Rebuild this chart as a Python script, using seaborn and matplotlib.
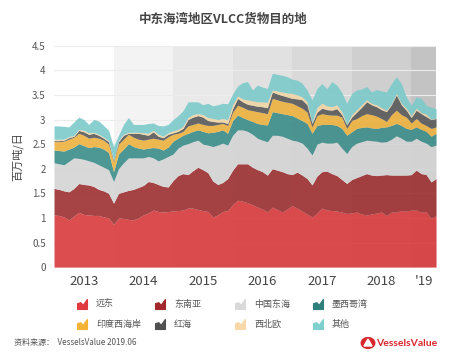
import numpy as np
import pandas as pd
import matplotlib
matplotlib.use("Agg")
import matplotlib.pyplot as plt
import seaborn as sns
from matplotlib.lines import Line2D
from matplotlib.path import Path

# Monthly data, Jan 2013 - Jun 2019 (million tonnes / day)
far_east = [1.06, 1.05, 1.02, 0.96, 1.04, 1.11, 1.07, 1.06, 1.05, 1.05, 1.02, 1.00,
            0.87, 1.00, 0.99, 0.97, 0.96, 1.00, 1.06, 1.10, 1.16, 1.13, 1.12, 1.13,
            1.14, 1.15, 1.16, 1.20, 1.20, 1.17, 1.15, 1.13, 1.02, 1.06, 1.13, 1.15,
            1.27, 1.36, 1.34, 1.31, 1.27, 1.22, 1.18, 1.12, 1.22, 1.17, 1.12, 1.18,
            1.25, 1.20, 1.14, 1.08, 1.02, 1.10, 1.20, 1.16, 1.15, 1.14, 1.12, 1.09,
            1.10, 1.12, 1.08, 1.06, 1.08, 1.10, 1.12, 1.05, 1.12, 1.12, 1.15, 1.14,
            1.16, 1.16, 1.12, 1.13, 0.99, 1.05]
se_asia = [0.54, 0.53, 0.53, 0.57, 0.56, 0.59, 0.61, 0.61, 0.59, 0.53, 0.53, 0.50,
           0.43, 0.50, 0.54, 0.59, 0.62, 0.62, 0.60, 0.64, 0.56, 0.55, 0.52, 0.50,
           0.62, 0.71, 0.74, 0.68, 0.76, 0.86, 0.83, 0.79, 0.73, 0.62, 0.59, 0.65,
           0.70, 0.74, 0.76, 0.79, 0.76, 0.76, 0.76, 0.75, 0.78, 0.80, 0.82, 0.72,
           0.63, 0.73, 0.73, 0.72, 0.65, 0.75, 0.74, 0.79, 0.75, 0.72, 0.66, 0.61,
           0.68, 0.70, 0.78, 0.84, 0.79, 0.76, 0.75, 0.83, 0.75, 0.75, 0.72, 0.73,
           0.72, 0.81, 0.78, 0.75, 0.74, 0.75]
east_china = [0.52, 0.52, 0.53, 0.62, 0.62, 0.51, 0.51, 0.49, 0.49, 0.50, 0.48, 0.48,
              0.44, 0.50, 0.59, 0.66, 0.64, 0.60, 0.56, 0.51, 0.50, 0.48, 0.56, 0.62,
              0.54, 0.56, 0.58, 0.63, 0.59, 0.55, 0.52, 0.56, 0.70, 0.80, 0.80, 0.68,
              0.71, 0.69, 0.69, 0.66, 0.67, 0.64, 0.64, 0.68, 0.68, 0.71, 0.72, 0.72,
              0.70, 0.63, 0.65, 0.62, 0.61, 0.65, 0.60, 0.57, 0.62, 0.68, 0.64, 0.61,
              0.67, 0.70, 0.69, 0.68, 0.70, 0.70, 0.67, 0.67, 0.73, 0.80, 0.75, 0.69,
              0.68, 0.65, 0.66, 0.64, 0.72, 0.68]
gulf_mexico = [0.26, 0.27, 0.28, 0.25, 0.22, 0.30, 0.28, 0.27, 0.32, 0.36, 0.37, 0.35,
               0.20, 0.30, 0.28, 0.29, 0.23, 0.20, 0.18, 0.17, 0.21, 0.26, 0.18, 0.19,
               0.26, 0.20, 0.20, 0.21, 0.21, 0.21, 0.26, 0.25, 0.29, 0.28, 0.27, 0.24,
               0.30, 0.30, 0.25, 0.24, 0.26, 0.30, 0.32, 0.34, 0.48, 0.46, 0.46, 0.48,
               0.50, 0.47, 0.46, 0.50, 0.44, 0.38, 0.36, 0.38, 0.38, 0.34, 0.40, 0.37,
               0.30, 0.30, 0.29, 0.27, 0.26, 0.26, 0.30, 0.30, 0.28, 0.25, 0.26, 0.26,
               0.24, 0.23, 0.24, 0.24, 0.21, 0.24]
india_wc = [0.17, 0.18, 0.20, 0.20, 0.20, 0.21, 0.21, 0.19, 0.19, 0.18, 0.18, 0.17,
            0.20, 0.20, 0.20, 0.19, 0.19, 0.18, 0.18, 0.18, 0.19, 0.18, 0.20, 0.21,
            0.14, 0.10, 0.08, 0.15, 0.14, 0.14, 0.14, 0.15, 0.14, 0.14, 0.13, 0.16,
            0.17, 0.20, 0.21, 0.20, 0.22, 0.24, 0.24, 0.23, 0.27, 0.26, 0.25, 0.25,
            0.25, 0.25, 0.25, 0.23, 0.13, 0.20, 0.22, 0.20, 0.19, 0.21, 0.23, 0.14,
            0.23, 0.20, 0.24, 0.27, 0.27, 0.25, 0.18, 0.11, 0.22, 0.27, 0.22, 0.23,
            0.13, 0.17, 0.13, 0.12, 0.16, 0.13]
red_sea = [0.02, 0.02, 0.02, 0.03, 0.02, 0.06, 0.07, 0.08, 0.08, 0.06, 0.04, 0.05,
           0.03, 0.05, 0.08, 0.02, 0.08, 0.12, 0.12, 0.08, 0.13, 0.06, 0.05, 0.05,
           0.03, 0.04, 0.06, 0.13, 0.15, 0.15, 0.15, 0.10, 0.08, 0.05, 0.03, 0.04,
           0.07, 0.14, 0.11, 0.11, 0.11, 0.11, 0.12, 0.12, 0.13, 0.12, 0.12, 0.11,
           0.10, 0.14, 0.17, 0.15, 0.07, 0.07, 0.11, 0.10, 0.10, 0.13, 0.05, 0.07,
           0.07, 0.13, 0.17, 0.24, 0.20, 0.19, 0.18, 0.20, 0.20, 0.31, 0.20, 0.14,
           0.11, 0.17, 0.19, 0.18, 0.18, 0.17]
nw_europe = [0.03, 0.03, 0.02, 0.02, 0.02, 0.02, 0.03, 0.03, 0.02, 0.02, 0.02, 0.02,
             0.01, 0.02, 0.02, 0.02, 0.02, 0.02, 0.03, 0.04, 0.03, 0.04, 0.03, 0.03,
             0.04, 0.04, 0.04, 0.04, 0.05, 0.04, 0.05, 0.06, 0.06, 0.05, 0.07, 0.08,
             0.08, 0.05, 0.06, 0.09, 0.09, 0.09, 0.10, 0.11, 0.04, 0.06, 0.07, 0.08,
             0.10, 0.08, 0.06, 0.06, 0.02, 0.10, 0.10, 0.08, 0.07, 0.08, 0.06, 0.01,
             0.05, 0.05, 0.05, 0.04, 0.03, 0.04, 0.04, 0.03, 0.02, 0.03, 0.03, 0.04,
             0.04, 0.04, 0.02, 0.05, 0.01, 0.01]
others = [0.27, 0.27, 0.26, 0.20, 0.27, 0.25, 0.22, 0.17, 0.26, 0.27, 0.24, 0.21,
          0.27, 0.11, 0.20, 0.30, 0.16, 0.16, 0.17, 0.20, 0.15, 0.18, 0.21, 0.17,
          0.23, 0.28, 0.32, 0.32, 0.26, 0.24, 0.20, 0.29, 0.26, 0.30, 0.31, 0.32,
          0.22, 0.20, 0.33, 0.37, 0.22, 0.34, 0.30, 0.28, 0.34, 0.34, 0.34, 0.33,
          0.29, 0.30, 0.28, 0.24, 0.46, 0.38, 0.40, 0.35, 0.51, 0.40, 0.39, 0.43,
          0.43, 0.40, 0.32, 0.27, 0.23, 0.31, 0.34, 0.37, 0.41, 0.34, 0.40, 0.23,
          0.21, 0.23, 0.29, 0.18, 0.24, 0.19]

series_names = ["远东", "东南亚", "中国东海", "墨西哥湾", "印度西海岸", "红海", "西北欧", "其他"]
area_colors = ["#d83a3c", "#9c2f31", "#d4d4d4", "#3a8c89", "#eeb23e", "#595959", "#f1d5a4", "#7ccaca"]
legend_colors = ["#e0393e", "#a3282c", "#d9d9d9", "#2f7f7a", "#f5b335", "#505050", "#f8d8a8", "#7fcfcf"]

years = [2013, 2014, 2015, 2016, 2017, 2018, 2019]
year_labels = ["2013", "2014", "2015", "2016", "2017", "2018", "'19"]
band_colors = ["#ffffff", "#f3f3f3", "#e9e9e9", "#e1e1e1", "#d9d9d9", "#cfcfcf", "#c3c3c3"]

df = pd.DataFrame(dict(zip(series_names,
                           [far_east, se_asia, east_china, gulf_mexico,
                            india_wc, red_sea, nw_europe, others])))
df["date"] = 2013 + np.arange(len(df)) / 12.0
x_end = df["date"].iloc[-1]

sns.set_theme(style="white")
plt.rcParams["font.family"] = ["Noto Sans CJK SC", "DejaVu Sans"]

fig = plt.figure(figsize=(4.5, 3.6), dpi=100)
ax = fig.add_axes([0.12, 0.258, 0.849, 0.615])

# year background bands
for yr, col in zip(years, band_colors):
    ax.axvspan(yr, min(yr + 1, x_end), ymin=0, ymax=1, color=col, lw=0, zorder=0)

for yv in np.arange(0.5, 4.51, 0.5):
    ax.axhline(yv, color="#ececec", lw=0.8, zorder=1)

ax.stackplot(df["date"], *[df[n] for n in series_names], colors=area_colors,
             alpha=0.9, lw=0, zorder=2)

ax.set_xlim(2013, x_end)
ax.set_ylim(0, 4.5)
ax.set_yticks(np.arange(0, 4.51, 0.5))
ax.set_yticklabels(["0", "0.5", "1", "1.5", "2", "2.5", "3", "3.5", "4", "4.5"],
                   fontsize=7, color="#555555")
mids = [yr + (min(yr + 1, x_end) - yr) / 2 for yr in years]
ax.set_xticks(mids)
ax.set_xticklabels(year_labels, fontsize=9.5, color="#444444")
ax.tick_params(axis="both", length=0)
ax.tick_params(axis="y", pad=6)
ax.tick_params(axis="x", pad=6)
for s in ax.spines.values():
    s.set_visible(False)
ax.set_ylabel("百万吨/日", fontsize=8, color="#444444", labelpad=6)

fig.text(0.497, 0.945, "中东海湾地区VLCC货物目的地", ha="center", va="center",
         fontsize=9, fontweight="bold", color="#444444")

# legend with small area-chart icons
icon = Path([(-1, -1), (1, -1), (1, 1), (0.15, -0.2), (-0.35, 0.35), (-1, 0.15), (-1, -1)],
            [Path.MOVETO] + [Path.LINETO] * 5 + [Path.CLOSEPOLY])
col_x = [82, 160, 240, 318]
row_y = [304, 324]
for k, (name, col) in enumerate(zip(series_names, legend_colors)):
    r, c = divmod(k, 4)
    mx, my = col_x[c] / 450, 1 - row_y[r] / 360
    fig.add_artist(Line2D([mx], [my], marker=icon, markersize=7, color=col,
                          transform=fig.transFigure, lw=0))
    fig.text(mx + 14 / 450, my, name, fontsize=6.5, color="#555555", va="center")

fig.text(14 / 450, 1 - 343 / 360, "资料来源：  VesselsValue 2019.06", fontsize=5.8,
         color="#555555", va="center")

# logo
fig.add_artist(plt.Circle((368 / 450, 1 - 343 / 360), 0.015, transform=fig.transFigure,
                          color="#d9262b"))
fig.add_artist(plt.Polygon([(364 / 450, 1 - 346 / 360), (372 / 450, 1 - 346 / 360),
                            (368 / 450, 1 - 339 / 360)], closed=True,
                           transform=fig.transFigure, color="white"))
fig.text(376 / 450, 1 - 343 / 360, "VesselsValue", fontsize=7.5, color="#d9262b",
         fontweight="bold", va="center", family=["Lato", "DejaVu Sans"])

fig.savefig("out.png", dpi=100)
